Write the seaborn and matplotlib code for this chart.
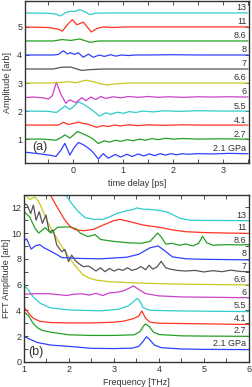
import matplotlib
matplotlib.use("Agg")
import matplotlib.pyplot as plt
from matplotlib.ticker import MultipleLocator
import pandas as pd
import seaborn as sns

# ---------------- data ----------------
pressures = ["2.1 GPa", "2.7", "4.1", "5.5", "6", "6.6", "7", "8", "8.6", "11", "13"]
td_offsets = [0.5, 1.0, 1.5, 2.0, 2.5, 3.0, 3.5, 4.0, 4.5, 5.0, 5.5]
fft_offsets = [1, 2, 3, 4, 5, 6, 7, 8, 9, 10, 11]

# time-domain traces (time in ps, amplitude relative to offset)
t_21 = [-1.0, -0.7, -0.45, -0.35, -0.25, -0.17, -0.07, 0.0, 0.1, 0.2, 0.3, 0.4, 0.5, 0.6, 0.7, 0.84, 0.95, 1.07,
        1.18, 1.3, 1.41, 1.52, 1.63, 1.74, 1.85, 1.96, 2.07, 2.18, 2.3, 2.5, 2.8, 3.1, 3.5]
a_21 = [0.04, -0.02, -0.08, -0.12, 0.1, 0.35, -0.07, 0.15, 0.38, 0.3, 0.18, 0.02, -0.21, -0.02, -0.18, -0.05, -0.14,
        -0.04, -0.12, -0.03, -0.1, -0.03, -0.09, -0.02, -0.07, -0.02, -0.06, -0.02, -0.04, -0.02, -0.03, -0.01, -0.02]
t_27 = [-1.0, -0.6, -0.35, -0.25, -0.17, -0.07, 0.0, 0.08, 0.18, 0.3, 0.4, 0.5, 0.62, 0.72, 0.85, 0.95, 1.08, 1.2,
        1.32, 1.45, 1.58, 1.7, 1.85, 2.0, 2.2, 2.5, 3.0, 3.5]
a_27 = [0.0, 0.0, -0.04, 0.05, 0.15, 0.04, 0.14, 0.27, 0.2, 0.1, 0.0, -0.16, -0.06, -0.11, -0.04, -0.08, -0.02,
        -0.06, 0.0, -0.04, 0.02, -0.02, 0.03, 0.0, 0.02, 0.0, 0.01, 0.0]
t_41 = [-1.0, -0.4, -0.3, -0.2, -0.1, 0.0, 0.1, 0.2, 0.3, 0.4, 0.47, 0.58, 0.7, 0.82, 0.95, 1.1, 1.3, 1.5, 1.8,
        2.2, 2.6, 3.0, 3.5]
a_41 = [0.0, 0.0, 0.0, 0.1, 0.02, 0.06, 0.1, 0.06, 0.03, -0.04, -0.08, -0.02, -0.05, 0.0, -0.03, 0.01, -0.02, 0.01,
        -0.01, 0.01, 0.0, 0.0, 0.0]
t_55 = [-1.0, -0.5, -0.34, -0.25, -0.17, -0.07, 0.0, 0.1, 0.2, 0.3, 0.42, 0.52, 0.65, 0.75, 0.88, 1.0, 1.12, 1.25,
        1.4, 1.6, 1.8, 2.1, 2.5, 3.0, 3.5]
a_55 = [0.0, -0.01, -0.05, 0.06, 0.18, 0.06, 0.15, 0.33, 0.25, 0.13, -0.02, -0.18, -0.06, -0.12, -0.04, -0.08,
        -0.02, -0.05, 0.0, -0.03, 0.01, -0.01, 0.01, 0.0, 0.0]
t_6 = [-1.0, -0.8, -0.6, -0.5, -0.42, -0.34, -0.25, -0.15, -0.07, 0.05, 0.17, 0.25, 0.35, 0.45, 0.55, 0.65, 0.8,
       0.95, 1.1, 1.3, 1.5, 1.7, 1.9, 2.2, 2.5, 2.8, 3.1, 3.5]
a_6 = [-0.02, 0.0, -0.03, -0.07, 0.05, 0.53, 0.1, -0.22, -0.1, -0.2, -0.02, -0.13, 0.0, -0.09, 0.02, -0.05, 0.01,
       -0.03, 0.02, -0.01, 0.02, -0.01, 0.01, -0.01, 0.01, 0.0, 0.01, 0.0]
t_66 = [-1.0, -0.5, -0.25, -0.1, 0.05, 0.25, 0.4, 0.55, 0.67, 0.85, 1.1, 1.5, 2.5, 3.5]
a_66 = [0.0, 0.0, 0.02, 0.05, 0.01, 0.1, 0.05, -0.03, -0.07, -0.03, 0.0, 0.0, 0.0, 0.0]
t_7 = [-1.0, -0.4, -0.25, -0.05, 0.07, 0.17, 0.35, 0.6, 1.5, 3.5]
a_7 = [0.0, 0.0, 0.06, 0.07, 0.0, -0.05, -0.02, 0.0, 0.0, 0.0]
t_8 = [-1.0, -0.4, -0.3, -0.2, -0.12, -0.05, 0.02, 0.1, 0.2, 0.3, 0.4, 0.52, 0.62, 0.75, 0.85, 0.97, 1.1, 1.25,
       1.5, 2.0, 2.5, 3.5]
a_8 = [0.0, 0.0, 0.02, 0.15, 0.04, 0.08, 0.02, 0.08, -0.08, 0.03, -0.08, 0.0, -0.05, 0.01, -0.04, 0.0, -0.02, 0.0,
       0.0, 0.01, 0.0, 0.0]
t_86 = [-1.0, -0.4, -0.23, -0.05, 0.13, 0.34, 0.5, 1.0, 3.5]
a_86 = [0.0, 0.0, 0.05, 0.02, 0.07, -0.05, 0.0, 0.0, 0.0]
t_11 = [-1.0, -0.5, -0.3, -0.22, -0.12, -0.02, 0.07, 0.13, 0.2, 0.36, 0.48, 0.6, 0.8, 1.0, 3.5]
a_11 = [0.0, -0.02, -0.08, -0.15, 0.08, 0.26, 0.08, 0.12, 0.17, -0.18, -0.05, 0.0, -0.02, 0.0, 0.0]
t_13 = [-1.0, -0.5, -0.35, -0.26, -0.15, -0.05, 0.03, 0.13, 0.22, 0.33, 0.45, 0.7, 3.5]
a_13 = [0.0, -0.01, -0.04, -0.11, 0.02, 0.06, 0.05, 0.12, 0.05, -0.06, -0.01, 0.0, 0.0]

# FFT traces (frequency in THz, amplitude as plotted incl. offset)
f_21 = [1.0, 1.1, 1.3, 1.6, 2.0, 2.5, 3.0, 3.4, 3.55, 3.65, 3.72, 3.8, 3.9, 4.05, 4.5, 5.0, 6.0]
s_21 = [2.0, 1.8, 1.5, 1.3, 1.2, 1.05, 1.03, 1.06, 1.2, 1.6, 1.95, 1.7, 1.3, 1.1, 1.0, 0.97, 0.95]
f_27 = [1.0, 1.1, 1.2, 1.3, 1.4, 1.6, 2.0, 2.5, 3.0, 3.45, 3.58, 3.65, 3.7, 3.78, 3.88, 4.0, 4.5, 5.0, 6.0]
s_27 = [3.85, 3.6, 3.0, 2.65, 2.45, 2.3, 2.1, 2.05, 2.05, 2.1, 2.35, 2.75, 2.95, 2.75, 2.3, 2.12, 2.02, 2.0, 1.98]
f_41 = [1.0, 1.1, 1.2, 1.35, 1.6, 2.0, 2.5, 3.0, 3.2, 3.43, 3.55, 3.62, 3.7, 3.8, 4.0, 5.0, 6.0]
s_41 = [4.25, 3.8, 3.4, 3.15, 3.05, 3.02, 3.02, 3.08, 3.15, 3.35, 3.55, 3.95, 3.4, 3.08, 3.0, 2.95, 2.9]
f_55 = [1.0, 1.1, 1.2, 1.36, 1.58, 2.0, 2.7, 3.1, 3.32, 3.45, 3.52, 3.58, 3.65, 3.8, 4.5, 6.0]
s_55 = [5.95, 5.58, 5.06, 4.55, 4.2, 4.03, 3.96, 4.08, 4.35, 4.72, 4.93, 4.7, 4.2, 4.0, 3.95, 3.9]
f_6 = [1.0, 1.3, 1.6, 1.95, 2.1, 2.3, 2.45, 2.6, 2.75, 2.9, 3.05, 3.2, 3.33, 3.43, 3.55, 3.7, 4.0, 4.5, 5.0, 6.0]
s_6 = [5.25, 5.3, 5.28, 5.15, 5.25, 5.28, 5.18, 5.32, 5.15, 5.35, 5.4, 5.5, 5.7, 5.9, 5.62, 5.3, 5.12, 5.04, 5.02,
       4.98]
f_66 = [1.0, 1.13, 1.24, 1.32, 1.43, 1.54, 1.76, 2.0, 2.13, 2.3, 2.45, 2.6, 2.9, 3.5, 4.5, 6.0]
s_66 = [13.1, 12.6, 12.8, 12.5, 11.65, 10.75, 9.4, 8.1, 7.5, 6.8, 6.5, 6.35, 6.22, 6.12, 6.03, 5.97]
f_7 = [1.0, 1.07, 1.15, 1.21, 1.27, 1.34, 1.41, 1.49, 1.56, 1.65, 1.73, 1.84, 1.91, 1.99, 2.06, 2.13, 2.21, 2.32,
       2.43, 2.5, 2.6, 2.7, 2.8, 2.9, 3.0, 3.1, 3.2, 3.3, 3.4, 3.5, 3.6, 3.7, 3.78, 3.86, 3.95, 4.05, 4.15, 4.25,
       4.4, 4.6, 4.8, 5.0, 5.2, 5.4, 5.6, 5.8, 6.0]
s_7 = [12.3, 12.17, 11.52, 12.17, 11.0, 11.65, 10.75, 11.4, 10.1, 10.23, 9.07, 8.55, 8.73, 7.78, 8.29, 7.9, 7.65,
       7.39, 7.44, 7.3, 7.05, 7.3, 7.0, 7.25, 7.05, 7.2, 7.1, 7.3, 7.1, 7.2, 7.4, 7.15, 7.5, 7.2, 7.35, 7.8, 7.3,
       7.2, 7.1, 7.05, 7.1, 6.98, 7.08, 7.0, 7.12, 7.02, 7.0]
f_8 = [1.0, 1.06, 1.16, 1.25, 1.35, 1.45, 1.62, 1.84, 2.2, 2.7, 3.28, 3.55, 3.8, 3.98, 4.1, 4.3, 4.6, 5.0, 6.0]
s_8 = [9.4, 9.55, 8.75, 9.0, 9.1, 8.85, 8.55, 8.1, 8.03, 8.0, 8.12, 8.35, 8.85, 9.0, 8.7, 8.15, 8.0, 7.96, 7.92]
f_86 = [1.0, 1.13, 1.25, 1.33, 1.47, 1.6, 1.75, 2.0, 2.15, 2.25, 2.42, 2.58, 2.7, 3.0, 3.3, 3.6, 3.8, 3.9, 3.97,
        4.05, 4.15, 4.3, 4.45, 4.6, 4.75, 4.88, 4.97, 5.06, 5.2, 5.5, 5.8, 6.0]
s_86 = [11.68, 11.24, 10.34, 10.0, 10.42, 10.0, 10.45, 10.48, 10.35, 10.0, 9.72, 9.88, 9.5, 9.35, 9.25, 9.2, 9.35,
        9.72, 10.0, 9.7, 9.15, 9.2, 9.05, 9.15, 9.0, 9.2, 9.75, 9.25, 9.05, 9.1, 9.08, 9.1]
f_11 = [1.55, 1.69, 1.8, 1.91, 2.02, 2.13, 2.32, 2.54, 2.76, 2.99, 3.13, 3.36, 3.65, 4.02, 4.32, 4.61, 5.06, 6.0]
s_11 = [13.2, 12.3, 11.65, 11.0, 10.54, 10.28, 10.18, 10.28, 10.62, 10.96, 11.06, 10.88, 10.62, 10.44, 10.23,
        10.1, 10.03, 9.97]
f_13 = [1.88, 2.06, 2.21, 2.36, 2.54, 2.76, 2.91, 3.06, 3.28, 3.45, 3.5, 3.58, 3.65, 3.75, 3.95, 4.17, 4.32,
        4.47, 4.69, 5.0, 6.0]
s_13 = [13.2, 12.3, 11.65, 11.2, 11.06, 11.06, 11.27, 11.52, 11.73, 11.85, 11.95, 11.9, 11.85, 11.85, 11.78,
        11.65, 11.4, 11.14, 11.0, 10.98, 10.96]

td_t = [t_21, t_27, t_41, t_55, t_6, t_66, t_7, t_8, t_86, t_11, t_13]
td_a = [a_21, a_27, a_41, a_55, a_6, a_66, a_7, a_8, a_86, a_11, a_13]
fft_f = [f_21, f_27, f_41, f_55, f_6, f_66, f_7, f_8, f_86, f_11, f_13]
fft_s = [s_21, s_27, s_41, s_55, s_6, s_66, s_7, s_8, s_86, s_11, s_13]

colors = ["#3040ff", "#25a025", "#ff3522", "#30cccc", "#cc40cc", "#c8c820", "#555555",
          "#3040ff", "#25a025", "#ff3522", "#30cccc"]

# ---------------- figure ----------------
sns.set_style("ticks")
plt.rcParams["font.family"] = ["Liberation Sans", "DejaVu Sans"]
FS = 6.5
dark = "#333333"

fig = plt.figure(figsize=(2.52, 3.87), dpi=100)
ax1 = fig.add_axes([0.099, 0.579, 0.889, 0.418])
ax2 = fig.add_axes([0.095, 0.065, 0.893, 0.431])

rows = []
for name, t, a, off in zip(pressures, td_t, td_a, td_offsets):
    for x, y in zip(t, a):
        rows.append({"x": x, "y": y + off, "p": name})
df1 = pd.DataFrame(rows)
rows = []
for name, f, s in zip(pressures, fft_f, fft_s):
    for x, y in zip(f, s):
        rows.append({"x": x, "y": y, "p": name})
df2 = pd.DataFrame(rows)

pal = dict(zip(pressures, colors))
sns.lineplot(data=df1, x="x", y="y", hue="p", palette=pal, hue_order=pressures,
             estimator=None, sort=False, legend=False, lw=0.9, ax=ax1)
sns.lineplot(data=df2, x="x", y="y", hue="p", palette=pal, hue_order=pressures,
             estimator=None, sort=False, legend=False, lw=0.9, ax=ax2)

ax1.set_xlim(-0.97, 3.52)
ax1.set_ylim(0.15, 5.92)
ax1.set_xticks([0, 1, 2, 3])
ax1.xaxis.set_minor_locator(MultipleLocator(0.5))
ax1.set_yticks([1, 2, 3, 4, 5])
ax1.set_xlabel("time delay [ps]", fontsize=FS, color=dark, labelpad=3)
ax1.set_ylabel("Amplitude [arb]", fontsize=FS, color=dark)
ax1.yaxis.set_label_coords(-0.06, 0.5)

ax2.set_xlim(1, 6)
ax2.set_ylim(0, 12.95)
ax2.set_xticks([1, 2, 3, 4, 5, 6])
ax2.xaxis.set_minor_locator(MultipleLocator(0.5))
ax2.set_yticks([0, 2, 4, 6, 8, 10, 12])
ax2.yaxis.set_minor_locator(MultipleLocator(1))
ax2.set_xlabel("Frequency [THz]", fontsize=FS, color=dark, labelpad=3)
ax2.set_ylabel("FFT Amplitude [arb]", fontsize=FS, color=dark)
ax2.yaxis.set_label_coords(-0.058, 0.5)

for ax in (ax1, ax2):
    for sp in ax.spines.values():
        sp.set_visible(True)
        sp.set_linewidth(1.0)
        sp.set_color(dark)
    ax.tick_params(which="both", direction="in", top=True, right=True,
                   labelsize=FS, colors=dark, width=0.6, pad=2)
    ax.tick_params(which="major", length=3)
    ax.tick_params(which="minor", length=3)

for name, off in zip(pressures, td_offsets):
    ax1.text(0.988, off + 0.02, name, transform=ax1.get_yaxis_transform(),
             ha="right", va="bottom", fontsize=FS, color=dark)
for name, off in zip(pressures, fft_offsets):
    ax2.text(0.988, off + 0.05, name, transform=ax2.get_yaxis_transform(),
             ha="right", va="bottom", fontsize=FS, color=dark)

ax1.text(0.068, 0.1, "(a)", transform=ax1.transAxes, ha="center", va="center",
         fontsize=9, color=dark)
ax2.text(0.054, 0.06, "(b)", transform=ax2.transAxes, ha="center", va="center",
         fontsize=9, color=dark)

fig.savefig("out.png", dpi=100)
